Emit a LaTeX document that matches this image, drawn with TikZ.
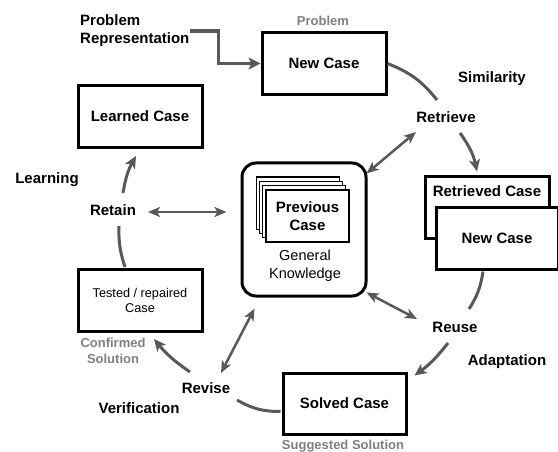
\documentclass[tikz,border=0pt]{standalone}
\usepackage{fontspec}
\setmainfont{Liberation Sans}
\usetikzlibrary{arrows.meta,calc}
\definecolor{arrowgray}{HTML}{595959}
\definecolor{notegray}{HTML}{808080}

\begin{document}
\begin{tikzpicture}[x=1pt,y=-1pt,
  box/.style={draw=black, line width=3pt, fill=white, minimum width=124pt,
    minimum height=62pt, inner sep=0pt, align=center,
    font=\fontsize{15}{18}\selectfont\bfseries},
  phase/.style={font=\fontsize{15}{18}\selectfont\bfseries, inner sep=0pt, align=center},
  note/.style={font=\fontsize{13}{16}\selectfont\bfseries, text=notegray,
    inner sep=0pt, align=center},
  page/.style={draw=black, line width=1.2pt, fill=white, minimum width=83pt,
    minimum height=52pt, inner sep=0pt},
  flow/.style={draw=arrowgray, line width=3pt, -{Stealth[length=12pt,width=11pt,inset=3pt]}},
  plain/.style={draw=arrowgray, line width=3pt},
  link/.style={draw=arrowgray, line width=2.5pt,
    {Stealth[length=12pt,width=10pt,inset=3pt]}-{Stealth[length=12pt,width=10pt,inset=3pt]}},
]
\useasboundingbox (0,0) rectangle (558,452);

% case boxes
\node[box] (newcase) at (324,63.5) {New Case};
\node[box] (learned) at (140,116.5) {Learned Case};
\node[box, font=\fontsize{12.7}{15}\selectfont] (tested) at (140,300.5) {Tested / repaired\\Case};
\node[box, minimum width=123pt, minimum height=61pt] (solved) at (344.5,403.5) {Solved Case};
\node[box, minimum height=61pt] (retrcase) at (487,207.5) {};
\node[phase] (retrtext) at ($(retrcase.north)+(0,16)$) {Retrieved Case};
\node[box, minimum width=122pt, minimum height=61pt] (newcase2) at (497,238.5) {New Case};

% case base with stacked previous cases
\node[draw=black, line width=3pt, rounded corners=14pt, minimum width=124pt,
  minimum height=133pt, inner sep=0pt] (kb) at (304,229.5) {};
\node[page] (pg3) at (297.6,203.1) {};
\node[page] (pg2) at (300.9,207.4) {};
\node[page] (pg1) at (304.2,211.7) {};
\node[page, font=\fontsize{15}{18}\selectfont\bfseries, align=center] (pg0) at (307.5,216) {Previous\\Case};
\node[font=\fontsize{14.5}{18}\selectfont, align=center, inner sep=0pt] (gk) at (305,266) {General\\Knowledge};

% process steps
\node[phase] (retrieve) at (446,117) {Retrieve};
\node[phase] (reuse) at (455,327) {Reuse};
\node[phase] (revise) at (206,388) {Revise};
\node[phase] (retain) at (113,210) {Retain};

% side labels
\node[phase, align=left, anchor=west] (probrep) at (80,31) {Problem\\Representation};
\node[phase] (similarity) at (492,79) {Similarity};
\node[phase] (adaptation) at (507,362) {Adaptation};
\node[phase] (verification) at (139,408) {Verification};
\node[phase] (learning) at (47,180) {Learning};
\node[note] (problem) at (323,21) {Problem};
\node[note] (suggested) at (343,446) {Suggested Solution};
\node[note] (confirmed) at (113,351) {Confirmed\\Solution};

% problem input
\draw[draw=arrowgray, line width=3.5pt, -{Stealth[length=12pt,width=12pt,inset=3pt]}]
  (probrep.east) -| ([xshift=-42pt]newcase.west) -- (newcase.west);

% the cycle
\draw[plain] (newcase.east) to[bend left=15] ($(retrieve)+(-9,-17)$);
\draw[flow] ($(retrieve)+(14,16)$) to[bend left=12] ($(retrcase.north)+(-10,-4)$);
\draw[plain] ($(newcase2.south)+(-14,1)$) to[bend left=12] ($(reuse)+(14,-18)$);
\draw[flow] ($(reuse)+(-7,16)$) to[bend left=8] ($(solved.north east)+(7,4)$);
\draw[plain] ($(solved.west)+(-1,8)$) to[bend left=15] ($(revise)+(31,12)$);
\draw[flow] ($(revise)+(-16,-16)$) to[bend left=8] ($(tested.south)+(14,6)$);
\draw[plain] ($(tested.north)+(-15,-1)$) to[bend left=10] ($(retain)+(6,16)$);
\draw[flow] ($(retain)+(10,-17)$) to[bend left=10] ($(learned.south)+(-4,7)$);

% exchanges with the case base
\draw[link] ($(retain)+(35,2)$) -- ($(kb.west)+(-14,-17.5)$);
\draw[link] ($(retrieve)+(-30,15)$) -- ($(kb.north east)+(-1,12)$);
\draw[link] ($(kb.south east)+(-1,-5)$) -- ($(reuse)+(-38,-8)$);
\draw[link] ($(revise)+(15,-15)$) -- ($(kb.south west)+(14,11)$);
\end{tikzpicture}
\end{document}
